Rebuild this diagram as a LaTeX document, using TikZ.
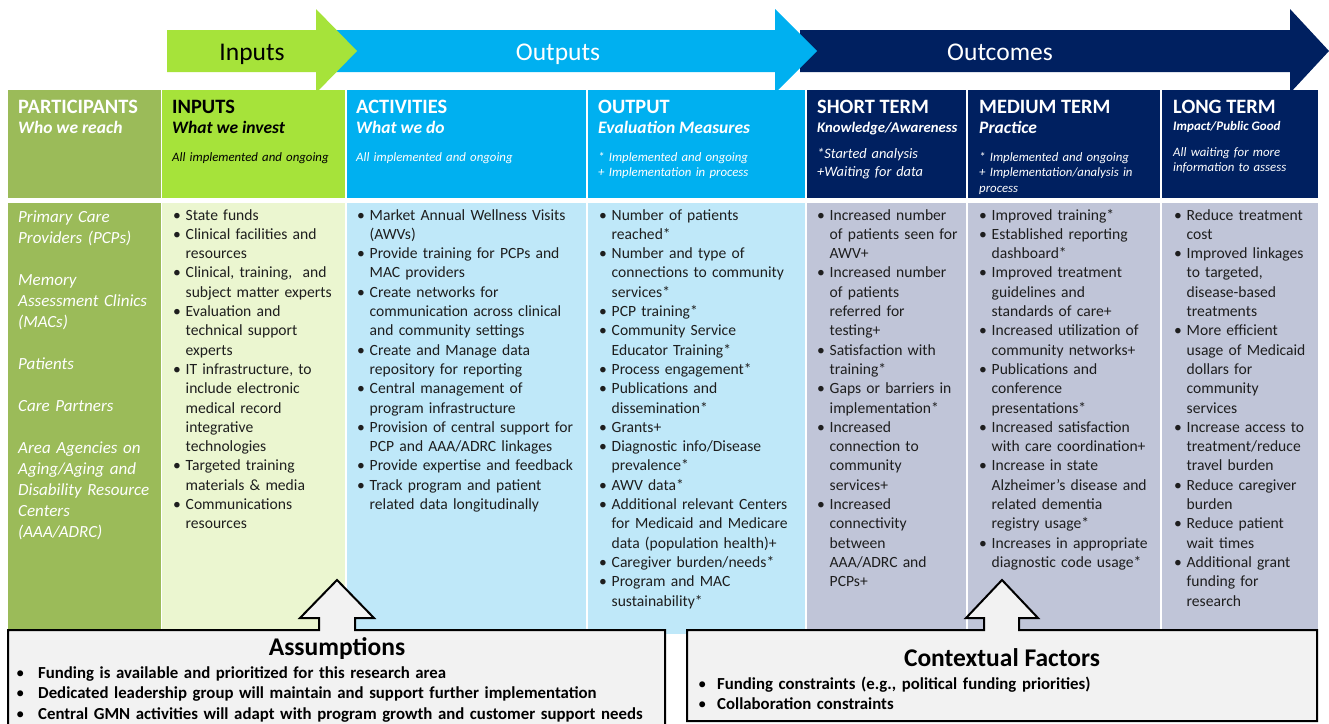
\documentclass[tikz,border=0pt]{standalone}
\usepackage{fontspec}
\setmainfont{Carlito}
\definecolor{partgreen}{RGB}{155,187,89}
\definecolor{inlime}{RGB}{166,227,58}
\definecolor{inpale}{RGB}{235,246,208}
\definecolor{outcyan}{RGB}{0,176,240}
\definecolor{outpale}{RGB}{191,232,249}
\definecolor{navy}{RGB}{0,32,96}
\definecolor{navypale}{RGB}{192,197,216}
\definecolor{boxgray}{RGB}{242,242,242}
\definecolor{bodyink}{RGB}{30,30,30}

% one bullet line, optional hanging indent
\newcommand{\bul}[2][12.5pt]{\noindent\hangindent=#1\hangafter=1\hbox to #1{\mdseries\textbullet\hss}#2\par}

\begin{document}
\begin{tikzpicture}[x=1pt, y=-1pt,
  hcell/.style={anchor=north west, inner sep=0pt, outer sep=0pt, minimum height=108pt},
  bcell/.style={anchor=north west, inner sep=0pt, outer sep=0pt, minimum height=431pt},
  phase/.style={anchor=base, inner sep=0pt, font=\fontsize{25.5}{28}\selectfont},
  title/.style={anchor=base west, inner sep=0pt, font=\fontsize{20.4}{23}\selectfont\bfseries},
  sub/.style={anchor=base west, inner sep=0pt, font=\fontsize{17.5}{20}\selectfont\bfseries\itshape},
  note/.style={anchor=base west, inner sep=0pt, text width=180pt, align=left, font=\fontsize{12.8}{15.5}\selectfont\itshape},
  blist/.style={anchor=base west, inner sep=0pt, text width=240pt, align=left, font=\fontsize{15.6}{19.3}\selectfont, text=bodyink},
  bigbox/.style={fill=boxgray, draw=black, line width=2pt, line join=miter},
  boxtitle/.style={anchor=base, inner sep=0pt, font=\fontsize{25.5}{28}\selectfont\bfseries},
  boxlist/.style={anchor=base west, inner sep=0pt, text width=700pt, align=left, font=\fontsize{16.8}{20.5}\selectfont\bfseries}
]
  \useasboundingbox (0,0) rectangle (1329,723);

  % phase arrows
  \fill[navy] (800,30) -- (1290,30) -- (1290,9) -- (1329,51) -- (1290,93) -- (1290,72) -- (800,72) -- cycle;
  \fill[outcyan] (335,30) -- (775,30) -- (775,9) -- (817,51) -- (775,93) -- (775,72) -- (335,72) -- cycle;
  \fill[inlime] (167,30) -- (316,30) -- (316,9) -- (357,51) -- (316,93) -- (316,72) -- (167,72) -- cycle;
  \node[phase] (inLbl) at (252,60) {Inputs};
  \node[phase, white] (outLbl) at (558,60) {Outputs};
  \node[phase, white] (outcLbl) at (1000,60) {Outcomes};

  % header row
  \node[hcell, fill=partgreen, minimum width=153pt] (pHead) at (8,90) {};
  \node[hcell, fill=inlime, minimum width=183pt] (iHead) at (162,90) {};
  \node[hcell, fill=outcyan, minimum width=239pt] (aHead) at (347,90) {};
  \node[hcell, fill=outcyan, minimum width=217pt] (oHead) at (588,90) {};
  \node[hcell, fill=navy, minimum width=159pt] (sHead) at (807,90) {};
  \node[hcell, fill=navy, minimum width=192pt] (mHead) at (968,90) {};
  \node[hcell, fill=navy, minimum width=156pt] (lHead) at (1162,90) {};

  % body row
  \node[bcell, fill=partgreen, minimum width=153pt] (pBody) at (8,203) {};
  \node[bcell, fill=inpale, minimum width=183pt] (iBody) at (162,203) {};
  \node[bcell, fill=outpale, minimum width=239pt] (aBody) at (347,203) {};
  \node[bcell, fill=outpale, minimum width=217pt] (oBody) at (588,203) {};
  \node[bcell, fill=navypale, minimum width=159pt] (sBody) at (807,203) {};
  \node[bcell, fill=navypale, minimum width=192pt] (mBody) at (968,203) {};
  \node[bcell, fill=navypale, minimum width=156pt] (lBody) at (1162,203) {};

  % header texts
  \node[title, white] (pTitle) at (18,113) {PARTICIPANTS};
  \node[sub, white] (pSub) at (18,133) {Who we reach};

  \node[title] (iTitle) at (172,113) {INPUTS};
  \node[sub] (iSub) at (172,133) {What we invest};
  \node[note] (iNote) at (172,161) {All implemented and ongoing};

  \node[title, white] (aTitle) at (356,113) {ACTIVITIES};
  \node[sub, white] (aSub) at (356,133) {What we do};
  \node[note, white] (aNote) at (356,161) {All implemented and ongoing};

  \node[title, white] (oTitle) at (598,113) {OUTPUT};
  \node[sub, white] (oSub) at (598,133) {Evaluation Measures};
  \node[note, white] (oNote) at (598,161) {* Implemented and ongoing\\+ Implementation in process};

  \node[title, white] (sTitle) at (817,113) {SHORT TERM};
  \node[sub, white, font=\fontsize{14.7}{17}\selectfont\bfseries\itshape] (sSub) at (817,132) {Knowledge/Awareness};
  \node[note, white, font=\fontsize{14.4}{18}\selectfont\itshape] (sNote) at (817,158) {*Started analysis\\+Waiting for data};

  \node[title, white] (mTitle) at (979,113) {MEDIUM TERM};
  \node[sub, white] (mSub) at (979,133) {Practice};
  \node[note, white] (mNote) at (979,161) {* Implemented and ongoing\\+ Implementation/analysis in\\process};

  \node[title, white] (lTitle) at (1173,113) {LONG TERM};
  \node[sub, white, font=\fontsize{13}{15}\selectfont\bfseries\itshape] (lSub) at (1173,130) {Impact/Public Good};
  \node[note, white] (lNote) at (1173,156) {All waiting for more\\information to assess};

  % participants
  \node[anchor=base west, inner sep=0pt, text width=150pt, align=left, white,
        font=\fontsize{17}{21}\selectfont\itshape] (pList) at (18,222)
    {Primary Care\\Providers (PCPs)\\[21pt]Memory\\Assessment Clinics\\(MACs)\\[21pt]Patients\\[21pt]Care Partners\\[21pt]Area Agencies on\\Aging/Aging and\\Disability Resource\\Centers\\(AAA/ADRC)};

  % inputs
  \node[blist] (iList) at (173,220) {%
    \bul{State funds}
    \bul{Clinical facilities and\newline resources}
    \bul{Clinical, training,~ and\newline subject matter experts}
    \bul{Evaluation and\newline technical support\newline experts}
    \bul{IT infrastructure, to\newline include electronic\newline medical record\newline integrative\newline technologies}
    \bul{Targeted training\newline materials \& media}
    \bul{Communications\newline resources}};

  % activities
  \node[blist] (aList) at (357,220) {%
    \bul{Market Annual Wellness Visits\newline (AWVs)}
    \bul{Provide training for PCPs and\newline MAC providers}
    \bul{Create networks for\newline communication across clinical\newline and community settings}
    \bul{Create and Manage data\newline repository for reporting}
    \bul{Central management of\newline program infrastructure}
    \bul{Provision of central support for\newline PCP and AAA/ADRC linkages}
    \bul{Provide expertise and feedback}
    \bul{Track program and patient\newline related data longitudinally}};

  % output
  \node[blist] (oList) at (599,220) {%
    \bul{Number of patients\newline reached*}
    \bul{Number and type of\newline connections to community\newline services*}
    \bul{PCP training*}
    \bul{Community Service\newline Educator Training*}
    \bul{Process engagement*}
    \bul{Publications and\newline dissemination*}
    \bul{Grants+}
    \bul{Diagnostic info/Disease\newline prevalence*}
    \bul{AWV data*}
    \bul{Additional relevant Centers\newline for Medicaid and Medicare\newline data (population health)+}
    \bul{Caregiver burden/needs*}
    \bul{Program and MAC\newline sustainability*}};

  % short term
  \node[blist] (sList) at (817,220) {%
    \bul{Increased number\newline of patients seen for\newline AWV+}
    \bul{Increased number\newline of patients\newline referred for\newline testing+}
    \bul{Satisfaction with\newline training*}
    \bul{Gaps or barriers in\newline implementation*}
    \bul{Increased\newline connection to\newline community\newline services+}
    \bul{Increased\newline connectivity\newline between\newline AAA/ADRC and\newline PCPs+}};

  % medium term
  \node[blist] (mList) at (979,220) {%
    \bul{Improved training*}
    \bul{Established reporting\newline dashboard*}
    \bul{Improved treatment\newline guidelines and\newline standards of care+}
    \bul{Increased utilization of\newline community networks+}
    \bul{Publications and\newline conference\newline presentations*}
    \bul{Increased satisfaction\newline with care coordination+}
    \bul{Increase in state\newline Alzheimer’s disease and\newline related dementia\newline registry usage*}
    \bul{Increases in appropriate\newline diagnostic code usage*}};

  % long term
  \node[blist] (lList) at (1174,220) {%
    \bul{Reduce treatment\newline cost}
    \bul{Improved linkages\newline to targeted,\newline disease-based\newline treatments}
    \bul{More efficient\newline usage of Medicaid\newline dollars for\newline community\newline services}
    \bul{Increase access to\newline treatment/reduce\newline travel burden}
    \bul{Reduce caregiver\newline burden}
    \bul{Reduce patient\newline wait times}
    \bul{Additional grant\newline funding for\newline research}};

  % assumptions and context boxes with their up arrows
  \filldraw[bigbox] (8,745) -- (8,630) -- (319,630) -- (319,618) -- (300,618) -- (337,580)
    -- (374,618) -- (355,618) -- (355,630) -- (665,630) -- (665,745) -- cycle;
  \filldraw[bigbox] (687,721) -- (687,630) -- (984,630) -- (984,618) -- (966,618) -- (1002,580)
    -- (1038,618) -- (1019,618) -- (1019,630) -- (1317,630) -- (1317,721) -- cycle;

  \node[boxtitle] (asTitle) at (337,655) {Assumptions};
  \node[boxlist] (asList) at (16,678) {%
    \bul[22pt]{Funding is available and prioritized for this research area}
    \bul[22pt]{Dedicated leadership group will maintain and support further implementation}
    \bul[22pt]{Central GMN activities will adapt with program growth and customer support needs}};

  \node[boxtitle] (cfTitle) at (1002,666) {Contextual Factors};
  \node[boxlist] (cfList) at (698,689) {%
    \bul[19pt]{Funding constraints (e.g., political funding priorities)}
    \bul[19pt]{Collaboration constraints}};
\end{tikzpicture}
\end{document}
